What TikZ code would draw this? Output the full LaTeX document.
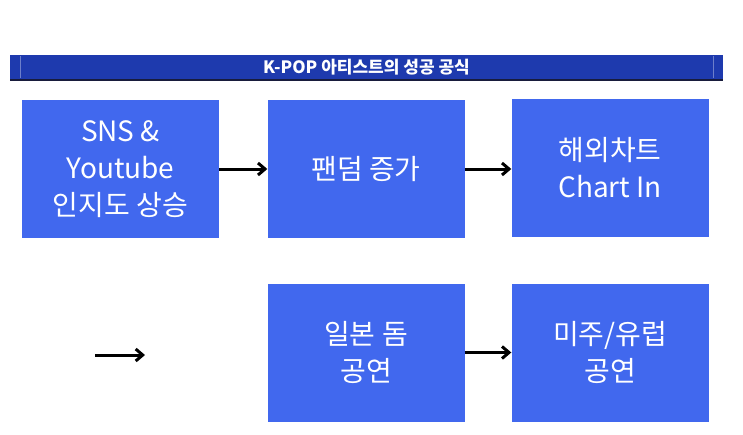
\documentclass[tikz,border=0pt]{standalone}
\usepackage{fontspec}
\setmainfont{Noto Sans CJK KR}
\usetikzlibrary{arrows.meta}
\definecolor{boxblue}{RGB}{65,104,238}
\definecolor{barblue}{RGB}{30,58,174}
\definecolor{bardark}{RGB}{24,28,60}
\begin{document}
\begin{tikzpicture}[x=1pt,y=-1pt,
  stepbox/.style={fill=boxblue, draw=none, minimum width=197pt, minimum height=138pt,
    text=white, align=center, font=\fontsize{28}{37}\selectfont, inner sep=0pt},
  flow/.style={-{Straight Barb[length=7pt,width=12pt,line width=3pt]}, line width=3pt, black}]
\useasboundingbox (0,0) rectangle (743,434);
% title bar
\fill[barblue] (10,55) rectangle (723,81);
\fill[bardark] (10,78.5) rectangle (723,81);
\draw[white!35!barblue, line width=0.5pt] (20,56) -- (20,78) (713,56) -- (713,78);
\node[text=white, font=\bfseries\fontsize{17}{20}\selectfont] (title) at (366.5,67.5) {K-POP 아티스트의 성공 공식};
% process boxes
\node[stepbox] (sns) at (120.5,169) {SNS \&\\Youtube\\인지도 상승};
\node[stepbox] (fan) at (366,169) {팬덤 증가};
\node[stepbox] (chart) at (610,168) {해외차트\\Chart In};
\node[stepbox] (japan) at (366,352.5) {일본 돔\\공연};
\node[stepbox] (west) at (610,352.5) {미주/유럽\\공연};
% connectors
\draw[flow] (sns.east) -- (fan.west);
\draw[flow] (fan.east) -- ([yshift=-1pt]chart.west);
\draw[flow] (japan.east) -- (west.west);
\coordinate (free-a) at (95,355);
\coordinate (free-b) at (145,355);
\draw[flow] (free-a) -- (free-b);
\end{tikzpicture}
\end{document}
